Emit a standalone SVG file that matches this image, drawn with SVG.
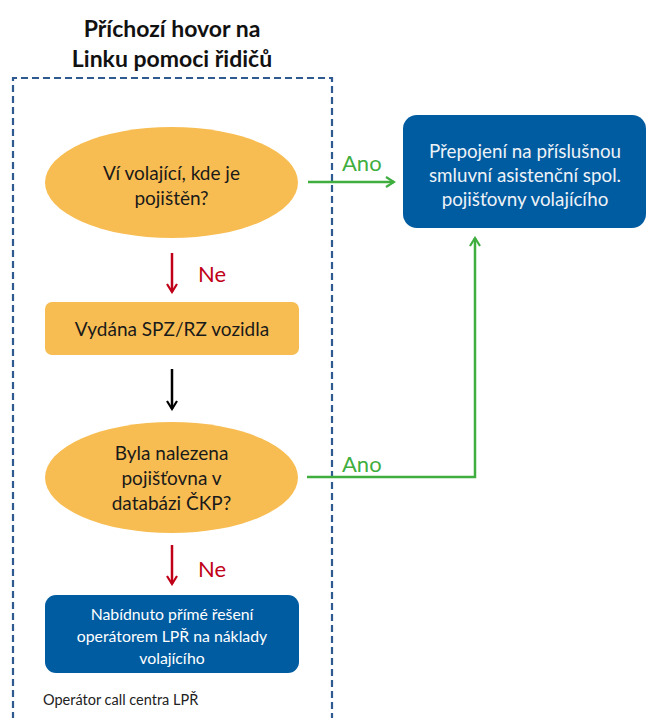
<svg xmlns="http://www.w3.org/2000/svg" width="646" height="718" viewBox="0 0 646 718">
<defs>
<style>
.t{font-family:Lato,"Liberation Sans",sans-serif;text-anchor:middle;dominant-baseline:central}
.dark{fill:#1a1a1a;font-size:19px}
.white{fill:#ffffff;font-size:15.8px}
.lite{fill:#eef2f7;font-size:18.8px}
.lbl{font-family:Lato,"Liberation Sans",sans-serif;font-size:22px;dominant-baseline:central}
.orange{fill:#f8bd52}
.blue{fill:#005ca1}
.g{stroke:#3fae3f;stroke-width:2.5;fill:none}
.r{stroke:#c00018;stroke-width:2.5;fill:none}
.k{stroke:#000;stroke-width:2.5;fill:none}
</style>
<marker id="ag" viewBox="0 0 12 12" refX="10" refY="6" markerWidth="12" markerHeight="12" markerUnits="userSpaceOnUse" orient="auto"><path d="M2,1 L10,6 L2,11" fill="none" stroke="#3fae3f" stroke-width="2.2"/></marker>
<marker id="ar" viewBox="0 0 12 12" refX="10" refY="6" markerWidth="12" markerHeight="12" markerUnits="userSpaceOnUse" orient="auto"><path d="M2,1 L10,6 L2,11" fill="none" stroke="#c00018" stroke-width="2.2"/></marker>
<marker id="ak" viewBox="0 0 12 12" refX="10" refY="6" markerWidth="12" markerHeight="12" markerUnits="userSpaceOnUse" orient="auto"><path d="M2,1 L10,6 L2,11" fill="none" stroke="#000" stroke-width="2.2"/></marker>
</defs>
<rect width="646" height="718" fill="#fff"/>
<g id="title">
<text class="t" x="172" y="28" style="font-weight:bold;font-size:23px;fill:#111">Příchozí hovor na</text>
<text class="t" x="172" y="58" style="font-weight:bold;font-size:23px;fill:#111">Linku pomoci řidičů</text>
</g>
<g id="lane">
<path d="M13,730 L13,78 L332,78 L332,730" fill="none" stroke="#2f5a8f" stroke-width="2.2" stroke-dasharray="7,4"/>
<text x="43" y="699" style="font-family:Lato,'Liberation Sans',sans-serif;font-size:14.5px;fill:#222;dominant-baseline:central">Operátor call centra LPŘ</text>
</g>
<g id="q1">
<ellipse class="orange" cx="171.5" cy="182.5" rx="126.5" ry="55.5"/>
<text class="t dark" x="171.5" y="172">Ví volající, kde je</text>
<text class="t dark" x="171.5" y="197">pojištěn?</text>
</g>
<g id="spz">
<rect class="orange" x="45" y="302" width="254" height="53" rx="7"/>
<text class="t dark" x="172" y="328.5">Vydána SPZ/RZ vozidla</text>
</g>
<g id="q2">
<ellipse class="orange" cx="171.5" cy="477.5" rx="126.5" ry="55.5"/>
<text class="t dark" x="171.5" y="452">Byla nalezena</text>
<text class="t dark" x="171.5" y="477">pojišťovna v</text>
<text class="t dark" x="171.5" y="502">databázi ČKP?</text>
</g>
<g id="direct">
<rect class="blue" x="45" y="595" width="254" height="78" rx="11"/>
<text class="t white" x="172" y="613">Nabídnuto přímé řešení</text>
<text class="t white" x="172" y="635.5">operátorem LPŘ na náklady</text>
<text class="t white" x="172" y="657">volajícího</text>
</g>
<g id="transfer">
<rect class="blue" x="403" y="115" width="243" height="113" rx="14"/>
<text class="t lite" x="525" y="150">Přepojení na příslušnou</text>
<text class="t lite" x="525" y="174">smluvní asistenční spol.</text>
<text class="t lite" x="525" y="198">pojišťovny volajícího</text>
</g>
<g id="connectors">
<line class="r" x1="172" y1="253" x2="172" y2="292" marker-end="url(#ar)"/>
<text class="lbl" x="198" y="273" fill="#c00018">Ne</text>
<line class="k" x1="172" y1="369" x2="172" y2="409" marker-end="url(#ak)"/>
<line class="r" x1="172" y1="545" x2="172" y2="584" marker-end="url(#ar)"/>
<text class="lbl" x="198" y="568" fill="#c00018">Ne</text>
<line class="g" x1="308" y1="182" x2="394" y2="182" marker-end="url(#ag)"/>
<text class="lbl" x="342" y="162" fill="#3fae3f">Ano</text>
<polyline class="g" points="307,477 475,477 475,238" marker-end="url(#ag)"/>
<text class="lbl" x="342" y="463" fill="#3fae3f">Ano</text>
</g>
</svg>
